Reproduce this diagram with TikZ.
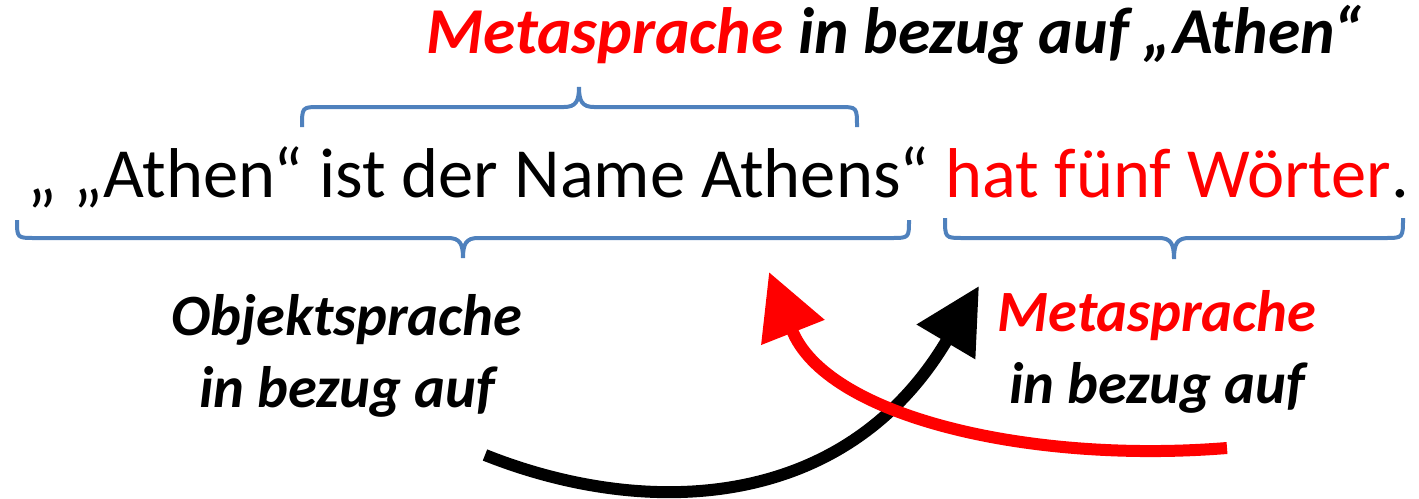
\documentclass[tikz,border=0pt]{standalone}
\usepackage{fontspec}
\setmainfont{Carlito}
\usetikzlibrary{arrows.meta}
\definecolor{braceblue}{RGB}{79,129,189}
\definecolor{pred}{RGB}{255,0,0}
% x1 x2 xtip yend yline ymid ytip
\newcommand{\mybrace}[7]{%
  \draw[bracestyle] (#1,#4) .. controls (#1,#5) .. ({#1+18},#5) -- ({#3-15},#5)
    .. controls ({#3-3},#5) and (#3,#6) .. (#3,#7)
    .. controls (#3,#6) and ({#3+3},#5) .. ({#3+15},#5) -- ({#2-18},#5)
    .. controls (#2,#5) .. (#2,#4);}
\tikzset{
  bracestyle/.style={draw=braceblue, line width=4pt},
  maintext/.style={inner sep=0pt, font=\fontsize{70.5}{86}\selectfont},
  toptext/.style={inner sep=0pt, font=\fontsize{65.5}{76}\selectfont\bfseries\itshape},
  sidetext/.style={inner sep=0pt, align=center, font=\fontsize{58.5}{72}\selectfont\bfseries\itshape},
  bigarrow/.style={line width=12pt, -{Triangle[length=65pt,width=65pt]}},
}
\begin{document}
\begin{tikzpicture}[x=1pt,y=-1pt]
\useasboundingbox (0,0) rectangle (1419,498);
\node[toptext, anchor=base] (top) at (894,53) {\textcolor{pred}{Metasprache} in bezug auf „Athen“};
\node[maintext, anchor=base] (main) at (718.5,197) {„ „Athen“ ist der Name Athens“ \textcolor{pred}{hat fünf Wörter}.};
\node[sidetext, anchor=base] (obj) at (347,407) {Objektsprache\\in bezug auf};
\node[sidetext, anchor=base] (meta) at (1157,403) {\textcolor{pred}{Metasprache}\\in bezug auf};
\mybrace{302}{857}{579}{127}{107}{101}{87}
\mybrace{17}{909}{463}{220}{238}{244}{258}
\mybrace{945}{1403}{1174}{218}{238}{244}{259}
\coordinate (bstart) at (485,455);
\coordinate (btip) at (979,286);
\coordinate (rstart) at (1227,448);
\coordinate (rtip) at (769,272);
\draw[bigarrow, black] (bstart) .. controls (643,518) and (844,514) .. (btip);
\draw[bigarrow, pred] (rstart) .. controls (1027,464) and (826,416) .. (rtip);
\end{tikzpicture}
\end{document}
